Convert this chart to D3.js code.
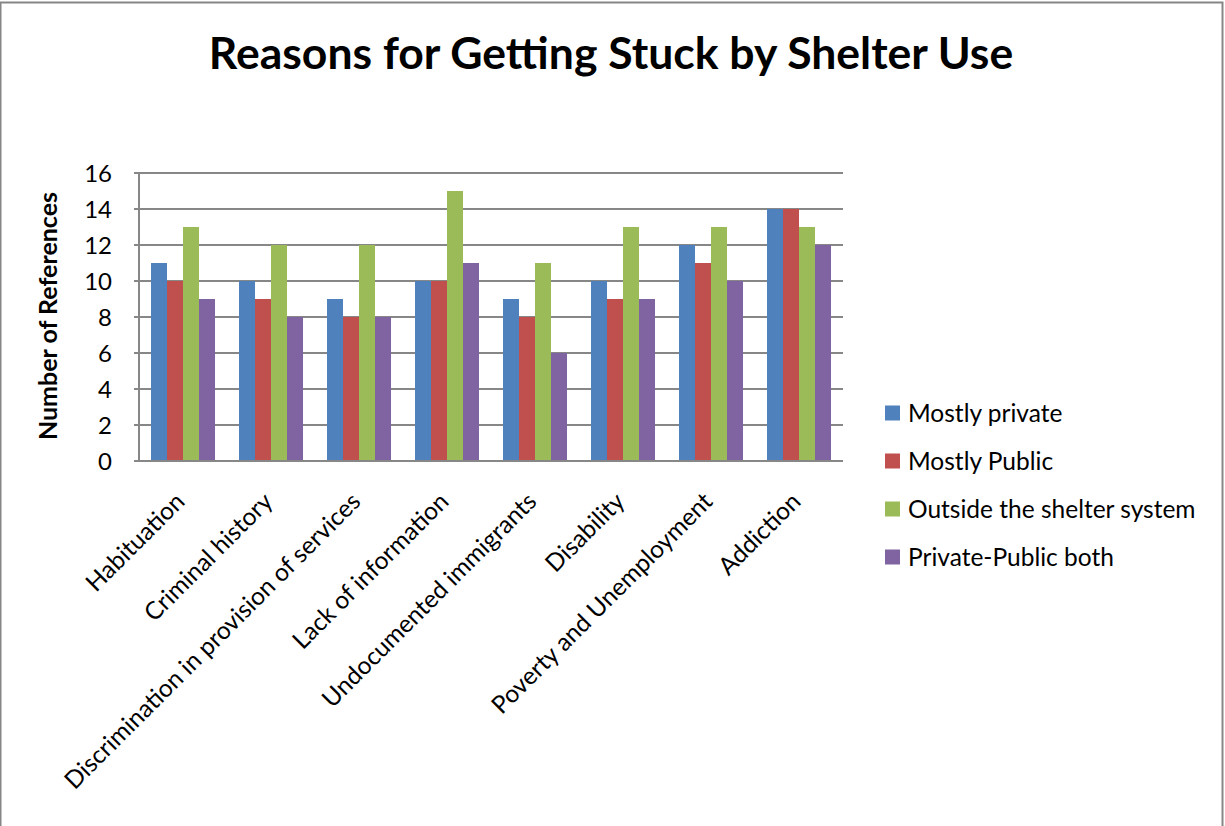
<!DOCTYPE html>
<meta charset="utf-8">
<script src="https://d3js.org/d3.v7.min.js"></script>
<style>
    body { margin: 0; background: #fff; }
    text { font-family: Lato, "Open Sans", sans-serif; fill: #000; }
</style>

<div id="chart"></div>

<script>
    // chart values
    var categories = ["Habituation", "Criminal history", "Discrimination in provision of services",
        "Lack of information", "Undocumented immigrants", "Disability",
        "Poverty and Unemployment", "Addiction"];
    var seriesNames = ["Mostly private", "Mostly Public", "Outside the shelter system", "Private-Public both"];
    var mostlyPrivate = [11, 10, 9, 10, 9, 10, 12, 14];
    var mostlyPublic  = [10, 9, 8, 10, 8, 9, 11, 14];
    var outside       = [13, 12, 12, 15, 11, 13, 13, 13];
    var bothTypes     = [9, 8, 8, 11, 6, 9, 10, 12];
    var yTicks = [0, 2, 4, 6, 8, 10, 12, 14, 16];
    var colors = ["#4F81BD", "#C0504D", "#9BBB59", "#8064A2"];

    var allSeries = [mostlyPrivate, mostlyPublic, outside, bothTypes];

    var W = 1225, H = 826;
    var plotL = 139, plotR = 843, plotT = 173, plotB = 461;

    var svg = d3.select("#chart").append("svg")
        .attr("width", W)
        .attr("height", H);

    // outer chart border
    svg.append("rect")
        .attr("x", 0.5).attr("y", 2.5)
        .attr("width", 1222).attr("height", 900)
        .attr("fill", "none")
        .attr("stroke", "#868686")
        .attr("stroke-width", 2);

    // scales
    var x0 = d3.scaleBand()
        .domain(categories)
        .range([plotL, plotR])
        .paddingInner(0.2727)
        .paddingOuter(0.1364);
    var x1 = d3.scaleBand()
        .domain(d3.range(seriesNames.length))
        .range([0, x0.bandwidth()]);
    var y = d3.scaleLinear()
        .domain([0, 16])
        .range([plotB, plotT]);

    // gridlines
    svg.append("g").selectAll("line")
        .data(yTicks)
        .enter().append("line")
        .attr("x1", plotL - 5).attr("x2", plotR)
        .attr("y1", function(d) { return y(d); })
        .attr("y2", function(d) { return y(d); })
        .attr("stroke", "#878787")
        .attr("stroke-width", 2);

    // y axis line
    svg.append("line")
        .attr("x1", plotL).attr("x2", plotL)
        .attr("y1", plotT).attr("y2", plotB)
        .attr("stroke", "#878787")
        .attr("stroke-width", 2);

    // y tick labels
    svg.append("g").selectAll("text")
        .data(yTicks)
        .enter().append("text")
        .attr("x", 112)
        .attr("y", function(d) { return y(d); })
        .attr("dy", "0.36em")
        .attr("text-anchor", "end")
        .style("font-size", "24px")
        .text(function(d) { return d; });

    // bars
    var groups = svg.append("g").selectAll("g")
        .data(categories)
        .enter().append("g")
        .attr("transform", function(d) { return "translate(" + x0(d) + ",0)"; });

    groups.selectAll("rect")
        .data(function(d, i) { return allSeries.map(function(s, k) { return {k: k, v: s[i]}; }); })
        .enter().append("rect")
        .attr("x", function(d) { return x1(d.k); })
        .attr("width", x1.bandwidth())
        .attr("y", function(d) { return y(d.v); })
        .attr("height", function(d) { return plotB - y(d.v); })
        .attr("fill", function(d) { return colors[d.k]; });

    // x axis line (drawn over bars)
    svg.append("line")
        .attr("x1", plotL).attr("x2", plotR)
        .attr("y1", plotB).attr("y2", plotB)
        .attr("stroke", "#878787")
        .attr("stroke-width", 2);

    // category labels, rotated
    svg.append("g").selectAll("text")
        .data(categories)
        .enter().append("text")
        .attr("transform", function(d) {
            var cx = x0(d) + x0.bandwidth() / 2 - 3;
            return "translate(" + cx + "," + (plotB + 36) + ") rotate(-45)";
        })
        .attr("text-anchor", "end")
        .attr("dy", "0.35em")
        .style("font-size", "24.5px")
        .text(function(d) { return d; });

    // y axis title
    svg.append("text")
        .attr("transform", "translate(57,316) rotate(-90)")
        .attr("text-anchor", "middle")
        .style("font-size", "25px")
        .style("font-weight", "bold")
        .text("Number of References");

    // title
    svg.append("text")
        .attr("x", 611)
        .attr("y", 69)
        .attr("text-anchor", "middle")
        .style("font-size", "44.5px")
        .style("font-weight", "bold")
        .text("Reasons for Getting Stuck by Shelter Use");

    // legend
    var legend = svg.append("g").selectAll("g")
        .data(seriesNames)
        .enter().append("g")
        .attr("transform", function(d, i) { return "translate(885," + (413 + i * 48) + ")"; });
    legend.append("rect")
        .attr("x", 0).attr("y", -7.5)
        .attr("width", 15).attr("height", 15)
        .attr("fill", function(d, i) { return colors[i]; });
    legend.append("text")
        .attr("x", 23)
        .attr("dy", "0.36em")
        .style("font-size", "24.5px")
        .text(function(d) { return d; });
</script>
